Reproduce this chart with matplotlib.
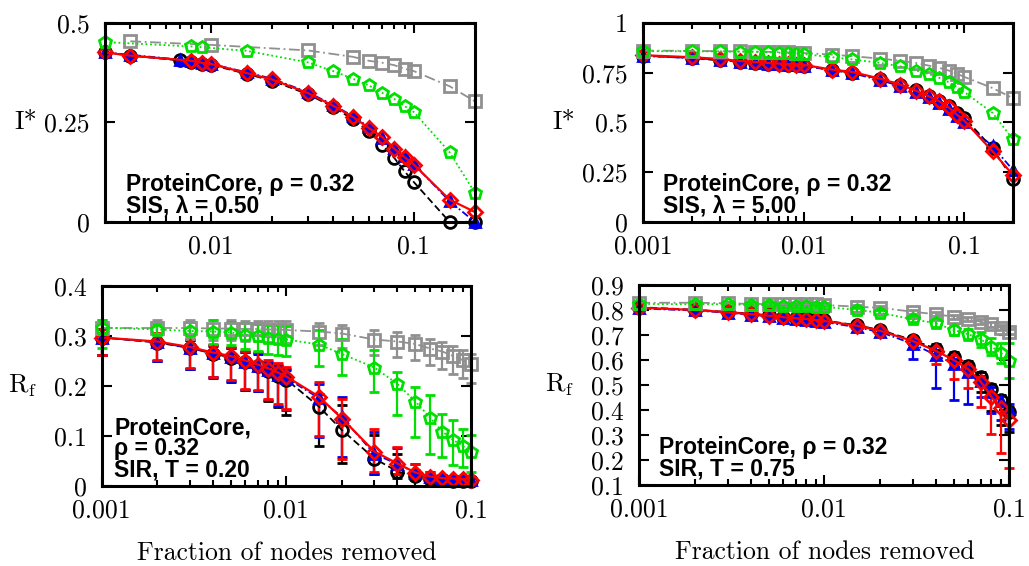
import matplotlib
matplotlib.use("Agg")
import matplotlib.pyplot as plt
from matplotlib.ticker import FixedLocator, NullFormatter, LogLocator

# ---------------- data ----------------
# panel (a): SIS, lambda = 0.50
sis05_x = [0.003, 0.004, 0.007, 0.008, 0.009, 0.01, 0.015, 0.02, 0.03, 0.04,
           0.05, 0.06, 0.07, 0.08, 0.09, 0.1, 0.15, 0.2]
sis05_black = [0.426, 0.418, 0.406, 0.402, 0.398, 0.395, 0.372, 0.355, 0.321, 0.289,
               0.258, 0.228, 0.193, 0.161, 0.127, 0.100, 0.0, 0.0]
sis05_blue = [0.426, 0.420, 0.408, 0.404, 0.400, 0.397, 0.376, 0.360, 0.326, 0.294,
              0.266, 0.238, 0.212, 0.186, 0.165, 0.145, 0.052, 0.0]
sis05_red_x = [0.003, 0.004, 0.008, 0.009, 0.01, 0.015, 0.02, 0.03, 0.04,
               0.05, 0.06, 0.07, 0.08, 0.09, 0.1, 0.15, 0.2]
sis05_red = [0.426, 0.418, 0.405, 0.400, 0.397, 0.374, 0.358, 0.324, 0.292,
             0.264, 0.236, 0.213, 0.184, 0.163, 0.144, 0.056, 0.025]
sis05_green_x = [0.003, 0.008, 0.009, 0.015, 0.03, 0.04, 0.05, 0.06, 0.07, 0.08,
                 0.09, 0.1, 0.15, 0.2]
sis05_green = [0.452, 0.441, 0.439, 0.430, 0.401, 0.379, 0.360, 0.343, 0.324, 0.309,
               0.291, 0.276, 0.175, 0.073]
sis05_gray_x = [0.004, 0.01, 0.03, 0.05, 0.06, 0.07, 0.08, 0.09, 0.1, 0.15, 0.2]
sis05_gray = [0.454, 0.445, 0.431, 0.415, 0.405, 0.400, 0.394, 0.385, 0.379, 0.341, 0.303]

# panel (b): SIS, lambda = 5.00
sis5_x = [0.001, 0.002, 0.003, 0.004, 0.005, 0.006, 0.007, 0.008, 0.009, 0.01,
          0.015, 0.02, 0.03, 0.04, 0.05, 0.06, 0.07, 0.08, 0.09, 0.1, 0.15, 0.2]
sis5_black = [0.836, 0.824, 0.812, 0.806, 0.801, 0.796, 0.793, 0.790, 0.788, 0.786,
              0.764, 0.750, 0.718, 0.690, 0.662, 0.635, 0.610, 0.582, 0.548, 0.524, 0.370, 0.218]
sis5_blue = [0.834, 0.824, 0.815, 0.806, 0.800, 0.796, 0.792, 0.789, 0.787, 0.785,
             0.762, 0.748, 0.712, 0.683, 0.655, 0.626, 0.600, 0.570, 0.533, 0.503, 0.380, 0.263]
sis5_red = [0.838, 0.828, 0.819, 0.809, 0.804, 0.799, 0.796, 0.793, 0.791, 0.789,
            0.766, 0.754, 0.720, 0.690, 0.660, 0.632, 0.606, 0.576, 0.539, 0.509, 0.355, 0.238]
sis5_green = [0.858, 0.858, 0.857, 0.856, 0.855, 0.853, 0.851, 0.848, 0.846, 0.844,
              0.828, 0.817, 0.799, 0.782, 0.761, 0.744, 0.724, 0.702, 0.678, 0.653, 0.548, 0.417]
sis5_gray = [0.861, 0.860, 0.858, 0.857, 0.856, 0.855, 0.853, 0.852, 0.851, 0.849,
             0.841, 0.833, 0.821, 0.810, 0.799, 0.786, 0.774, 0.761, 0.745, 0.729, 0.673, 0.623]

# panels (c), (d): SIR
sir_x = [0.001, 0.002, 0.003, 0.004, 0.005, 0.006, 0.007, 0.008, 0.009, 0.01,
         0.015, 0.02, 0.03, 0.04, 0.05, 0.06, 0.07, 0.08, 0.09, 0.1]

# SIR, T = 0.20
sir02_black = [0.297, 0.287, 0.276, 0.265, 0.257, 0.248, 0.240, 0.230, 0.221, 0.213,
               0.159, 0.112, 0.055, 0.029, 0.020, 0.014, 0.012, 0.011, 0.011, 0.011]
sir02_blue = [0.297, 0.288, 0.276, 0.266, 0.258, 0.249, 0.241, 0.232, 0.223, 0.216,
              0.176, 0.138, 0.064, 0.044, 0.027, 0.019, 0.016, 0.015, 0.014, 0.013]
sir02_red = [0.297, 0.289, 0.278, 0.267, 0.260, 0.251, 0.243, 0.235, 0.227, 0.219,
             0.179, 0.135, 0.069, 0.045, 0.027, 0.019, 0.016, 0.015, 0.014, 0.013]
sir02_green = [0.317, 0.313, 0.310, 0.309, 0.307, 0.302, 0.300, 0.297, 0.295, 0.293,
               0.283, 0.264, 0.237, 0.204, 0.169, 0.137, 0.109, 0.092, 0.081, 0.069]
sir02_gray = [0.316, 0.316, 0.316, 0.315, 0.315, 0.314, 0.314, 0.313, 0.313, 0.312,
              0.309, 0.305, 0.293, 0.289, 0.284, 0.275, 0.269, 0.260, 0.252, 0.244]
sir02_red_lo = [0.035, 0.037, 0.041, 0.048, 0.048, 0.056, 0.050, 0.060, 0.063, 0.064,
                0.078, 0.080, 0.040, 0.020, 0.008, 0.007, 0.004, 0.004, 0.004, 0.004]
sir02_red_hi = [0.018, 0.017, 0.017, 0.016, 0.019, 0.020, 0.025, 0.017, 0.020, 0.019,
                0.029, 0.040, 0.045, 0.033, 0.018, 0.010, 0.006, 0.006, 0.006, 0.006]
sir02_black_lo = [0.035, 0.037, 0.041, 0.048, 0.048, 0.056, 0.050, 0.060, 0.063, 0.070,
                  0.078, 0.065, 0.030, 0.012, 0.008, 0.005, 0.004, 0.004, 0.004, 0.004]
sir02_black_hi = [0.018, 0.017, 0.017, 0.016, 0.019, 0.020, 0.025, 0.017, 0.020, 0.019,
                  0.026, 0.050, 0.048, 0.035, 0.012, 0.008, 0.005, 0.005, 0.005, 0.005]
sir02_green_lo = [0.040, 0.030, 0.025, 0.024, 0.025, 0.028, 0.030, 0.032, 0.033, 0.033,
                  0.043, 0.042, 0.048, 0.062, 0.070, 0.072, 0.050, 0.050, 0.042, 0.040]
sir02_green_hi = [0.015, 0.012, 0.018, 0.023, 0.022, 0.024, 0.025, 0.026, 0.027, 0.027,
                  0.030, 0.031, 0.035, 0.025, 0.030, 0.045, 0.036, 0.040, 0.033, 0.033]
sir02_gray_lo = [0.020, 0.020, 0.021, 0.022, 0.022, 0.023, 0.024, 0.025, 0.026, 0.026,
                 0.027, 0.028, 0.030, 0.031, 0.032, 0.033, 0.034, 0.035, 0.036, 0.038]
sir02_gray_hi = [0.016, 0.016, 0.016, 0.017, 0.017, 0.017, 0.017, 0.018, 0.018, 0.018,
                 0.018, 0.018, 0.019, 0.019, 0.019, 0.020, 0.020, 0.020, 0.020, 0.020]

# SIR, T = 0.75
sir075_black = [0.811, 0.801, 0.792, 0.785, 0.779, 0.773, 0.769, 0.766, 0.762, 0.758,
                0.739, 0.720, 0.680, 0.645, 0.610, 0.575, 0.533, 0.485, 0.440, 0.390]
sir075_blue = [0.806, 0.798, 0.789, 0.781, 0.775, 0.769, 0.764, 0.760, 0.756, 0.752,
               0.731, 0.712, 0.665, 0.620, 0.585, 0.552, 0.515, 0.470, 0.435, 0.405]
sir075_red = [0.809, 0.800, 0.791, 0.783, 0.777, 0.771, 0.767, 0.764, 0.760, 0.756,
              0.737, 0.717, 0.676, 0.637, 0.600, 0.563, 0.513, 0.453, 0.407, 0.360]
sir075_green = [0.824, 0.823, 0.823, 0.820, 0.820, 0.817, 0.817, 0.816, 0.813, 0.813,
                0.800, 0.789, 0.763, 0.747, 0.720, 0.703, 0.683, 0.653, 0.629, 0.596]
sir075_gray = [0.829, 0.829, 0.827, 0.824, 0.824, 0.823, 0.823, 0.822, 0.822, 0.820,
               0.813, 0.809, 0.793, 0.783, 0.773, 0.763, 0.753, 0.743, 0.729, 0.713]
sir075_red_lo = [0.006, 0.006, 0.006, 0.007, 0.007, 0.007, 0.008, 0.008, 0.008, 0.009,
                 0.010, 0.012, 0.030, 0.054, 0.077, 0.074, 0.100, 0.150, 0.180, 0.190]
sir075_blue_lo = [0.006, 0.006, 0.006, 0.007, 0.007, 0.007, 0.008, 0.008, 0.008, 0.010,
                  0.012, 0.015, 0.062, 0.133, 0.145, 0.127, 0.065, 0.083, 0.075, 0.080]
sir075_black_lo = [0.006, 0.006, 0.006, 0.007, 0.007, 0.007, 0.008, 0.008, 0.008, 0.009,
                   0.010, 0.012, 0.015, 0.020, 0.025, 0.030, 0.060, 0.090, 0.100, 0.080]
sir075_hi = [0.006, 0.006, 0.006, 0.007, 0.007, 0.007, 0.008, 0.008, 0.008, 0.009,
             0.010, 0.012, 0.015, 0.018, 0.020, 0.020, 0.020, 0.020, 0.020, 0.020]
sir075_green_err = [0.008, 0.008, 0.008, 0.008, 0.008, 0.008, 0.008, 0.008, 0.008, 0.008,
                    0.010, 0.010, 0.012, 0.015, 0.020, 0.022, 0.030, 0.035, 0.040, 0.070]
sir075_gray_err = [0.006, 0.006, 0.006, 0.006, 0.006, 0.006, 0.006, 0.006, 0.006, 0.006,
                   0.007, 0.007, 0.008, 0.008, 0.008, 0.009, 0.009, 0.010, 0.010, 0.010]

notes = ["ProteinCore, \u03c1 = 0.32\nSIS, \u03bb = 0.50",
         "ProteinCore, \u03c1 = 0.32\nSIS, \u03bb = 5.00",
         "ProteinCore,\n\u03c1 = 0.32\nSIR, T = 0.20",
         "ProteinCore, \u03c1 = 0.32\nSIR, T = 0.75"]

# ---------------- styles ----------------
STYLE = {
    "black": dict(color="black", marker="o", ls=(0, (4, 2)), mfc="none", lw=1.3),
    "blue": dict(color="#0000ee", marker="^", ls=(0, (4, 1.5, 1, 1.5)), mfc="#0000ee", lw=1.3),
    "red": dict(color="#ff0000", marker="D", ls="-", mfc="none", lw=1.6),
    "gray": dict(color="#909090", marker="s", ls=(0, (6, 2, 1, 2)), mfc="none", lw=1.3),
    "green": dict(color="#00e000", marker="p", ls=(0, (1, 1.5)), mfc="none", lw=1.3),
}
MSIZE = {"black": 8.5, "blue": 7.5, "red": 7.5, "gray": 8, "green": 9}

plt.rcParams["font.family"] = "cmr10"
plt.rcParams["mathtext.fontset"] = "cm"
plt.rcParams["axes.unicode_minus"] = False
plt.rcParams["axes.formatter.use_mathtext"] = True


def plot_series(ax, x, y, key, err=None):
    st = STYLE[key]
    if err is None:
        ax.plot(x, y, color=st["color"], ls=st["ls"], lw=st["lw"], marker=st["marker"],
                ms=MSIZE[key], mfc=st["mfc"], mec=st["color"], mew=2.0, clip_on=False)
    else:
        ax.errorbar(x, y, yerr=err, color=st["color"], ls=st["ls"], lw=st["lw"],
                    marker=st["marker"], ms=MSIZE[key], mfc=st["mfc"], mec=st["color"],
                    mew=2.0, ecolor=st["color"], elinewidth=1.6, capsize=3.5,
                    capthick=1.6, clip_on=False)


def setup_axes(ax, xlim, ylim, yticks, ylabels, ylabel, note, note_x, show_xlabel):
    ax.set_xscale("log")
    ax.set_xlim(*xlim)
    ax.set_ylim(*ylim)
    xt = [t for t in [0.001, 0.01, 0.1] if xlim[0] <= t <= xlim[1] * 1.0001]
    ax.xaxis.set_major_locator(FixedLocator(xt))
    ax.set_xticklabels([f"{t:g}" for t in xt])
    ax.xaxis.set_minor_locator(LogLocator(base=10, subs=range(2, 10)))
    ax.xaxis.set_minor_formatter(NullFormatter())
    ax.set_yticks(yticks)
    ax.set_yticklabels(ylabels)
    ax.tick_params(which="both", direction="in", top=True, right=True,
                   labelsize=18.5, width=1.5)
    ax.tick_params(which="major", length=7, pad=11)
    ax.tick_params(axis="x", which="major", pad=9)
    ax.tick_params(which="minor", length=4)
    for sp in ax.spines.values():
        sp.set_linewidth(2.2)
    ax.set_ylabel(ylabel, rotation=0, fontsize=19, ha="center", va="center")
    ax.yaxis.set_label_coords(-0.215, 0.5)
    if show_xlabel:
        ax.set_xlabel("Fraction of nodes removed", fontsize=18.5, labelpad=14)
    ax.text(note_x, 0.025, note, transform=ax.transAxes, ha="left", va="bottom",
            family="Liberation Sans", weight="bold", fontsize=16.5, linespacing=0.88,
            zorder=10)


fig = plt.figure(figsize=(10.29, 5.66), dpi=100)

# --- top left ---
ax1 = fig.add_axes([0.102, 0.6078, 0.3596, 0.3516])
plot_series(ax1, sis05_x, sis05_black, "black")
plot_series(ax1, sis05_x, sis05_blue, "blue")
plot_series(ax1, sis05_red_x, sis05_red, "red")
plot_series(ax1, sis05_gray_x, sis05_gray, "gray")
plot_series(ax1, sis05_green_x, sis05_green, "green")
setup_axes(ax1, (0.003, 0.2), (0, 0.5), [0, 0.25, 0.5], ["0", "0.25", "0.5"],
           "I*", notes[0], 0.057, False)

# --- top right ---
ax2 = fig.add_axes([0.6251, 0.6078, 0.359, 0.3516])
plot_series(ax2, sis5_x, sis5_black, "black")
plot_series(ax2, sis5_x, sis5_blue, "blue")
plot_series(ax2, sis5_x, sis5_red, "red")
plot_series(ax2, sis5_x, sis5_gray, "gray")
plot_series(ax2, sis5_x, sis5_green, "green")
setup_axes(ax2, (0.001, 0.2), (0, 1), [0, 0.25, 0.5, 0.75, 1],
           ["0", "0.25", "0.5", "0.75", "1"], "I*", notes[1], 0.054, False)

# --- bottom left ---
ax3 = fig.add_axes([0.0988, 0.1413, 0.3589, 0.3534])
plot_series(ax3, sir_x, sir02_black, "black", [sir02_black_lo, sir02_black_hi])
plot_series(ax3, sir_x, sir02_blue, "blue", [sir02_red_lo, sir02_red_hi])
plot_series(ax3, sir_x, sir02_red, "red", [sir02_red_lo, sir02_red_hi])
plot_series(ax3, sir_x, sir02_gray, "gray", [sir02_gray_lo, sir02_gray_hi])
plot_series(ax3, sir_x, sir02_green, "green", [sir02_green_lo, sir02_green_hi])
setup_axes(ax3, (0.001, 0.1), (0, 0.4), [0, 0.1, 0.2, 0.3, 0.4],
           ["0", "0.1", "0.2", "0.3", "0.4"], r"$\mathrm{R_f}$", notes[2], 0.034, True)

# --- bottom right ---
ax4 = fig.add_axes([0.6213, 0.1431, 0.3596, 0.3534])
plot_series(ax4, sir_x, sir075_black, "black", [sir075_black_lo, sir075_hi])
plot_series(ax4, sir_x, sir075_blue, "blue", [sir075_blue_lo, sir075_hi])
plot_series(ax4, sir_x, sir075_red, "red", [sir075_red_lo, sir075_hi])
plot_series(ax4, sir_x, sir075_gray, "gray", sir075_gray_err)
plot_series(ax4, sir_x, sir075_green, "green", sir075_green_err)
yt4 = [0.1, 0.2, 0.3, 0.4, 0.5, 0.6, 0.7, 0.8, 0.9]
setup_axes(ax4, (0.001, 0.1), (0.1, 0.9), yt4, [f"{v:g}" for v in yt4],
           r"$\mathrm{R_f}$", notes[3], 0.053, True)

fig.savefig("out.png", dpi=100)
